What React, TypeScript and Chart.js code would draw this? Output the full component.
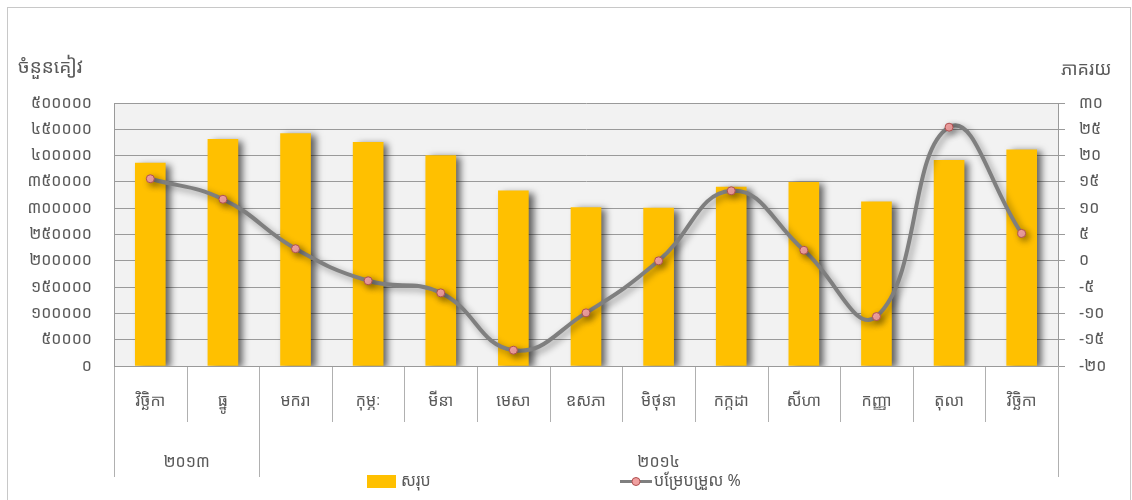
import { useEffect, useRef } from 'react';
import { Chart, registerables } from 'chart.js';

Chart.register(...registerables);

const categories = ['វិច្ឆិកា', 'ធ្នូ', 'មករា', 'កុម្ភៈ', 'មីនា', 'មេសា', 'ឧសភា', 'មិថុនា', 'កក្កដា', 'សីហា', 'កញ្ញា', 'តុលា', 'វិច្ឆិកា'];
const yearLabels = ['២០១៣', '២០១៤'];
const yearSpans = [2, 11];
const totals = [386000, 431000, 442000, 425000, 400000, 333000, 301000, 300000, 340000, 349000, 312000, 391000, 411000];
const changePct = [15.6, 11.7, 2.3, -3.8, -6.1, -17.0, -9.9, 0.0, 13.3, 2.0, -10.6, 25.4, 5.2];
const leftTickLabels = ['០', '៥០០០០', '១០០០០០', '១៥០០០០', '២០០០០០', '២៥០០០០', '៣០០០០០', '៣៥០០០០', '៤០០០០០', '៤៥០០០០', '៥០០០០០'];
const rightTickLabels = ['-២០', '-១៥', '-១០', '-៥', '០', '៥', '១០', '១៥', '២០', '២៥', '៣០'];
const leftTitle = 'ចំនួនគៀវ';
const rightTitle = 'ភាគរយ';
const barLabel = 'សរុប';
const lineLabel = 'បម្រែបម្រួល %';

const FONT = '"Noto Sans Khmer", "Khmer OS", "Noto Sans", "DejaVu Sans", sans-serif';
const TXT = '#595959';
const GRID = '#9a9a9a';

const decorPlugin = {
  id: 'decor',
  beforeDraw(chart: any) {
    const { ctx, chartArea } = chart;
    ctx.save();
    ctx.fillStyle = '#ffffff';
    ctx.fillRect(0, 0, chart.width, chart.height);
    ctx.strokeStyle = '#c8c8c8';
    ctx.lineWidth = 1;
    ctx.strokeRect(7.5, 7.5, 1123, 500);
    ctx.fillStyle = '#f2f2f2';
    ctx.fillRect(chartArea.left, chartArea.top, chartArea.right - chartArea.left, chartArea.bottom - chartArea.top);
    ctx.restore();
  },
  beforeDatasetDraw(chart: any, args: any) {
    const ctx = chart.ctx;
    ctx.save();
    if (args.index === 0) {
      ctx.shadowColor = 'rgba(0,0,0,0.6)';
      ctx.shadowBlur = 7;
      ctx.shadowOffsetX = 5;
      ctx.shadowOffsetY = 2;
    } else {
      ctx.shadowColor = 'rgba(0,0,0,0.4)';
      ctx.shadowBlur = 7;
      ctx.shadowOffsetX = 3;
      ctx.shadowOffsetY = 3;
    }
  },
  afterDatasetDraw(chart: any) {
    chart.ctx.restore();
  },
  afterDraw(chart: any) {
    const { ctx } = chart;
    const xs = chart.scales.x;
    const ys = chart.scales.y;
    const bottom = ys.bottom;
    const n = categories.length;
    const bounds: number[] = [];
    for (let i = 0; i <= n; i++) {
      if (i === 0) bounds.push(xs.left);
      else if (i === n) bounds.push(xs.right);
      else bounds.push((xs.getPixelForValue(i - 1) + xs.getPixelForValue(i)) / 2);
    }
    const groupEdges: number[] = [0];
    let acc = 0;
    yearSpans.forEach((s) => { acc += s; groupEdges.push(acc); });

    ctx.save();
    ctx.strokeStyle = '#b0b0b0';
    ctx.lineWidth = 1;
    bounds.forEach((bx, i) => {
      const px = Math.round(bx) + 0.5;
      const isGroup = groupEdges.includes(i);
      ctx.beginPath();
      ctx.moveTo(px, bottom);
      ctx.lineTo(px, isGroup ? 477 : 422);
      ctx.stroke();
    });
    ctx.strokeStyle = GRID;
    ctx.beginPath();
    ctx.moveTo(xs.left, Math.round(bottom) + 0.5);
    ctx.lineTo(xs.right, Math.round(bottom) + 0.5);
    ctx.stroke();

    ctx.fillStyle = TXT;
    ctx.font = `16px ${FONT}`;
    ctx.textAlign = 'center';
    ctx.textBaseline = 'middle';
    categories.forEach((c, i) => {
      ctx.fillText(c, xs.getPixelForValue(i), 401);
    });
    yearLabels.forEach((y, g) => {
      const cx = (bounds[groupEdges[g]] + bounds[groupEdges[g + 1]]) / 2;
      ctx.fillText(y, cx, 462);
    });

    ctx.textAlign = 'left';
    ctx.font = `19px ${FONT}`;
    ctx.fillText(leftTitle, 18, 68);
    ctx.font = `18px ${FONT}`;
    ctx.fillText(rightTitle, 1061, 70);

    ctx.fillStyle = '#FFC000';
    ctx.fillRect(367, 475, 29, 13);
    ctx.fillStyle = TXT;
    ctx.font = `16px ${FONT}`;
    ctx.fillText(barLabel, 401, 481);
    ctx.strokeStyle = '#7f7f7f';
    ctx.lineWidth = 3;
    ctx.beginPath();
    ctx.moveTo(620, 481.5);
    ctx.lineTo(652, 481.5);
    ctx.stroke();
    ctx.beginPath();
    ctx.arc(636, 481.5, 4, 0, Math.PI * 2);
    ctx.fillStyle = '#f0a0a0';
    ctx.fill();
    ctx.lineWidth = 1;
    ctx.strokeStyle = '#b05050';
    ctx.stroke();
    ctx.fillStyle = TXT;
    ctx.fillText(lineLabel, 654, 481);
    ctx.restore();
  },
};

export default function App() {
  const ref = useRef<HTMLCanvasElement | null>(null);
  useEffect(() => {
    if (!ref.current) return;
    const chart = new Chart(ref.current, {
      type: 'bar',
      data: {
        labels: categories,
        datasets: [
          {
            type: 'bar',
            label: barLabel,
            data: totals,
            backgroundColor: '#FFC000',
            borderWidth: 0,
            barThickness: 30,
            yAxisID: 'y',
            order: 1,
          },
          {
            type: 'line',
            label: lineLabel,
            data: changePct,
            borderColor: '#7f7f7f',
            borderWidth: 4,
            tension: 0.45,
            pointRadius: 4,
            pointBackgroundColor: '#f0a0a0',
            pointBorderColor: '#b05050',
            pointBorderWidth: 1,
            yAxisID: 'y1',
            order: 0,
          } as any,
        ],
      },
      options: {
        responsive: false,
        animation: false,
        devicePixelRatio: 1,
        layout: { padding: { left: 0, right: 0, top: 103, bottom: 134 } },
        plugins: { legend: { display: false }, tooltip: { enabled: false } },
        scales: {
          x: {
            display: false,
            offset: true,
          },
          y: {
            position: 'left',
            min: 0,
            max: 500000,
            afterFit(scale: any) { scale.width = 114; },
            ticks: {
              stepSize: 50000,
              padding: 22,
              color: TXT,
              font: { family: FONT, size: 16 },
              callback: (_v: any, i: number) => leftTickLabels[i],
            },
            grid: { color: GRID, drawTicks: false, lineWidth: 1 },
            border: { display: true, color: GRID },
          },
          y1: {
            position: 'right',
            min: -20,
            max: 30,
            afterFit(scale: any) { scale.width = 74; },
            ticks: {
              stepSize: 5,
              padding: 14,
              color: TXT,
              font: { family: FONT, size: 16 },
              callback: (_v: any, i: number) => rightTickLabels[i],
            },
            grid: { drawOnChartArea: false, drawTicks: true, tickLength: 7, color: GRID },
            border: { display: true, color: GRID },
          },
        },
      } as any,
      plugins: [decorPlugin],
    });
    return () => chart.destroy();
  }, []);
  return (
    <div style={{ position: 'fixed', left: 0, top: 0, width: 1132, height: 500, background: '#fff' }}>
      <canvas ref={ref} width={1132} height={500} />
    </div>
  );
}
